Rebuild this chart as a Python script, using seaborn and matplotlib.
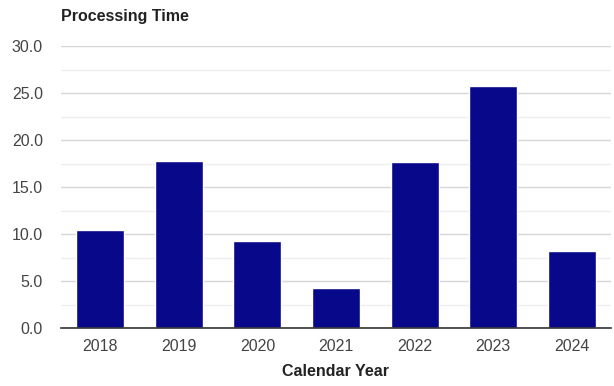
import pandas as pd
import seaborn as sns
from matplotlib import pyplot as plt
from matplotlib.ticker import MultipleLocator, FormatStrFormatter

years = ["2018", "2019", "2020", "2021", "2022", "2023", "2024"]
processing_time = [10.4, 17.8, 9.3, 4.3, 17.7, 25.7, 8.2]

df = pd.DataFrame({"Calendar Year": years, "Processing Time": processing_time})

sns.set_theme(style="white")
plt.rcParams['font.family'] = ['Liberation Sans', 'DejaVu Sans']

fig = plt.figure(figsize=(6.14, 3.86), dpi=100)
ax = fig.add_axes([61 / 614, 1 - 328 / 386, 550 / 614, 282 / 386])

sns.barplot(data=df, x="Calendar Year", y="Processing Time", color="#08088a",
            saturation=1, width=0.61, ax=ax, zorder=3)

ax.set_ylim(0, 30)
ax.set_xlim(-0.5, len(years) - 0.5)
ax.yaxis.set_major_locator(MultipleLocator(5))
ax.yaxis.set_minor_locator(MultipleLocator(2.5))
ax.yaxis.set_major_formatter(FormatStrFormatter("%.1f"))
ax.grid(axis="y", which="major", color="#d6d6d6", linewidth=1, zorder=0)
ax.grid(axis="y", which="minor", color="#eeeeee", linewidth=1, zorder=0)
ax.set_axisbelow(True)

for side in ["top", "right", "left"]:
    ax.spines[side].set_visible(False)
ax.spines["bottom"].set_color("#333333")
ax.spines["bottom"].set_linewidth(1.2)
ax.spines["bottom"].set_zorder(4)

ax.tick_params(axis="both", which="both", length=0, labelsize=11.5, labelcolor="#444444")
ax.tick_params(axis="x", pad=8)
ax.tick_params(axis="y", pad=13)

ax.set_ylabel("")
ax.set_xlabel("Calendar Year", fontsize=11.5, fontweight="bold", color="#222222", labelpad=7)
fig.text(61 / 614, 1 - 16 / 386, "Processing Time", fontsize=11.5, fontweight="bold",
         color="#222222", ha="left", va="center")

fig.savefig("out.png", dpi=100)
